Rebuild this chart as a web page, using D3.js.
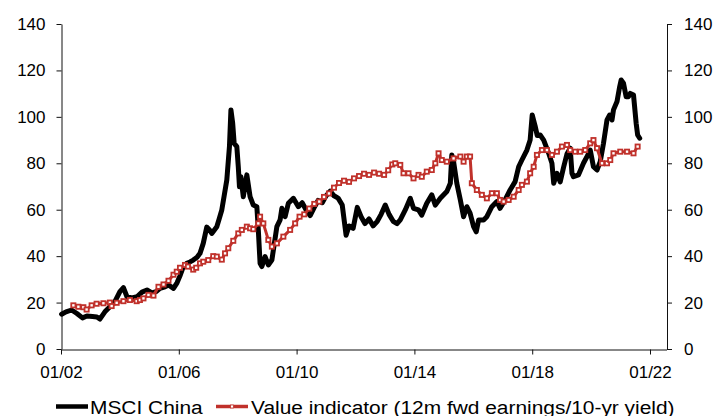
<!DOCTYPE html>
<html>
<head>
<meta charset="utf-8">
<script src="https://cdn.jsdelivr.net/npm/d3@7"></script>
<style>
  html, body { margin: 0; padding: 0; background: #fff; }
  svg { display: block; font-family: "Liberation Sans", Arial, sans-serif; }
</style>
</head>
<body>
<svg id="chart" width="715" height="416"></svg>
<script>
// Time in decimal years, values as index levels
const msciTime = [
  2002.02, 2002.17, 2002.36, 2002.54, 2002.73, 2002.88, 2003.07, 2003.22, 2003.32, 2003.49,
  2003.66, 2003.83, 2004.00, 2004.12, 2004.24, 2004.41, 2004.58, 2004.75, 2004.92, 2005.09,
  2005.23, 2005.36, 2005.53, 2005.65, 2005.82, 2005.94, 2006.04, 2006.14, 2006.27, 2006.38,
  2006.49, 2006.62, 2006.72, 2006.83, 2006.95, 2007.03, 2007.12, 2007.29, 2007.37, 2007.46,
  2007.54, 2007.63, 2007.72, 2007.77, 2007.83, 2007.88, 2007.97, 2008.02, 2008.06, 2008.11,
  2008.19, 2008.31, 2008.42, 2008.53, 2008.65, 2008.70, 2008.76, 2008.82, 2008.93, 2009.04,
  2009.16, 2009.33, 2009.44, 2009.50, 2009.61, 2009.72, 2009.89, 2010.06, 2010.19, 2010.32,
  2010.46, 2010.60, 2010.73, 2010.87, 2011.00, 2011.14, 2011.27, 2011.41, 2011.55, 2011.68,
  2011.78, 2011.92, 2012.06, 2012.19, 2012.32, 2012.46, 2012.60, 2012.74, 2012.87, 2013.01,
  2013.14, 2013.28, 2013.41, 2013.52, 2013.69, 2013.86, 2013.97, 2014.14, 2014.25, 2014.42,
  2014.59, 2014.71, 2014.88, 2015.10, 2015.22, 2015.27, 2015.33, 2015.44, 2015.56, 2015.67,
  2015.78, 2015.89, 2016.01, 2016.10, 2016.18, 2016.35, 2016.46, 2016.63, 2016.80, 2016.91,
  2017.08, 2017.25, 2017.42, 2017.54, 2017.65, 2017.82, 2017.93, 2018.00, 2018.10, 2018.17,
  2018.27, 2018.39, 2018.56, 2018.67, 2018.73, 2018.84, 2018.95, 2019.07, 2019.18, 2019.29,
  2019.35, 2019.40, 2019.57, 2019.74, 2019.86, 2019.97, 2020.08, 2020.20, 2020.31, 2020.42,
  2020.54, 2020.63, 2020.71, 2020.76, 2020.88, 2020.97, 2021.02, 2021.10, 2021.19, 2021.27,
  2021.33, 2021.44, 2021.53, 2021.58, 2021.65
];
const msciValue = [
  15.0, 16.0, 16.8, 15.3, 13.4, 14.2, 14.0, 13.8, 12.9, 16.0,
  18.2, 20.4, 24.7, 26.4, 22.5, 22.0, 22.5, 24.5, 25.4, 24.2,
  24.7, 26.1, 26.8, 27.6, 26.1, 28.5, 31.5, 35.0, 36.9, 37.5,
  38.3, 39.5, 41.2, 45.5, 52.5, 51.5, 49.8, 52.7, 56.0, 59.9,
  66.0, 72.8, 87.2, 103.0, 97.2, 88.6, 87.2, 78.5, 69.9, 74.2,
  65.6, 75.0, 65.6, 62.0, 61.3, 51.3, 36.9, 35.5, 39.8, 36.2,
  38.3, 52.7, 55.6, 60.6, 57.0, 62.8, 64.9, 61.3, 63.0, 60.0,
  57.5, 61.0, 64.0, 63.0, 66.0, 68.0, 66.0, 65.0, 62.0, 49.0,
  53.0, 52.0, 61.0, 57.0, 54.0, 56.0, 53.0, 55.0, 58.0, 62.0,
  58.0, 55.0, 54.0, 55.6, 59.9, 64.9, 60.6, 59.9, 57.7, 62.8,
  66.4, 62.0, 64.9, 67.8, 71.4, 83.6, 80.7, 71.4, 64.2, 57.0,
  61.3, 58.5, 52.7, 50.5, 55.6, 55.6, 57.0, 61.3, 63.5, 60.6,
  64.2, 68.5, 72.1, 78.5, 81.4, 85.7, 90.0, 100.8, 96.0, 92.0,
  92.2, 90.0, 84.3, 80.0, 71.4, 75.7, 72.0, 78.5, 84.0, 86.5,
  75.7, 74.2, 75.0, 80.0, 82.9, 85.7, 78.5, 77.1, 80.7, 88.6,
  98.7, 100.8, 98.7, 103.0, 106.6, 113.0, 115.9, 114.5, 108.7, 108.7,
  110.1, 109.4, 97.2, 92.2, 90.8
];

const valueTime = [
  2002.42, 2002.59, 2002.76, 2002.87, 2003.04, 2003.21, 2003.44, 2003.66, 2003.72, 2003.89,
  2004.12, 2004.34, 2004.57, 2004.68, 2004.80, 2004.97, 2005.14, 2005.31, 2005.48, 2005.65,
  2005.82, 2005.93, 2006.04, 2006.21, 2006.31, 2006.49, 2006.59, 2006.72, 2006.83, 2007.00,
  2007.17, 2007.29, 2007.46, 2007.57, 2007.68, 2007.85, 2008.02, 2008.14, 2008.31, 2008.42,
  2008.53, 2008.70, 2008.76, 2008.87, 2009.04, 2009.16, 2009.33, 2009.55, 2009.78, 2009.95,
  2010.10, 2010.26, 2010.43, 2010.60, 2010.77, 2010.93, 2011.10, 2011.27, 2011.44, 2011.61,
  2011.78, 2011.95, 2012.12, 2012.29, 2012.46, 2012.63, 2012.80, 2012.97, 2013.11, 2013.25,
  2013.35, 2013.52, 2013.63, 2013.80, 2013.97, 2014.14, 2014.25, 2014.42, 2014.59, 2014.71,
  2014.82, 2014.93, 2015.10, 2015.33, 2015.56, 2015.67, 2015.78, 2015.89, 2015.95, 2016.12,
  2016.29, 2016.46, 2016.63, 2016.80, 2016.91, 2017.03, 2017.20, 2017.37, 2017.54, 2017.65,
  2017.82, 2017.93, 2018.05, 2018.16, 2018.33, 2018.50, 2018.67, 2018.84, 2019.01, 2019.18,
  2019.29, 2019.46, 2019.63, 2019.80, 2019.97, 2020.08, 2020.20, 2020.37, 2020.54, 2020.65,
  2020.76, 2020.99, 2021.22, 2021.44, 2021.58
];
const valueValue = [
  18.8, 18.2, 18.0, 17.0, 18.8, 19.5, 19.7, 20.0, 18.5, 19.9,
  20.6, 21.1, 20.6, 21.1, 21.8, 23.3, 23.0, 26.8, 27.8, 29.4,
  32.0, 33.3, 35.0, 36.2, 35.5, 34.2, 35.0, 36.9, 37.6, 38.3,
  40.0, 39.8, 38.5, 41.2, 43.4, 46.6, 49.8, 51.3, 52.7, 52.0,
  51.6, 54.1, 57.0, 54.1, 47.0, 44.1, 45.5, 48.4, 51.3, 54.1,
  57.0, 58.0, 60.5, 62.5, 63.5, 65.5, 67.0, 69.5, 71.5, 72.5,
  72.0, 73.5, 74.5, 75.5, 75.0, 76.0, 75.5, 75.0, 77.0, 79.5,
  80.0, 79.3, 75.7, 75.7, 73.5, 75.0, 74.2, 76.4, 77.1, 80.0,
  84.3, 81.4, 80.7, 82.1, 82.9, 80.7, 82.9, 82.9, 71.4, 68.5,
  66.4, 64.9, 67.1, 67.1, 64.2, 63.5, 64.2, 65.6, 68.5, 70.7,
  72.1, 75.7, 78.5, 83.6, 85.7, 85.7, 83.6, 85.0, 87.2, 87.9,
  85.7, 85.0, 85.0, 85.7, 88.6, 90.0, 86.5, 80.0, 80.0, 81.4,
  84.3, 85.0, 85.0, 84.3, 87.2
];

const yTicks = [0, 20, 40, 60, 80, 100, 120, 140];
const xTicks = [2002, 2006, 2010, 2014, 2018, 2022];
const xTickLabels = ["01/02", "01/06", "01/10", "01/14", "01/18", "01/22"];
const seriesNames = ["MSCI China", "Value indicator (12m fwd earnings/10-yr yield)"];
const seriesColors = ["#000000", "#c0312b"];

const svg = d3.select("#chart");
const plot = { left: 61, right: 666.5, top: 24, bottom: 349 };

const x = d3.scaleLinear().domain([2002, 2022.56]).range([plot.left, plot.right]);
const y = d3.scaleLinear().domain([0, 140]).range([plot.bottom, plot.top]);

const axisFont = "17px";

function styleAxis(g) {
  g.selectAll("path.domain").attr("stroke", "#111").attr("stroke-width", 1);
  g.selectAll(".tick line").attr("stroke", "#111").attr("stroke-width", 1);
  g.selectAll(".tick text")
    .attr("fill", "#000")
    .style("font-size", axisFont)
    .style("font-family", "'Liberation Sans', Arial, sans-serif");
}

// Left value axis
svg.append("g")
  .attr("transform", `translate(${plot.left + 0.5},0)`)
  .call(d3.axisLeft(y).tickValues(yTicks).tickSize(5).tickSizeOuter(0).tickPadding(11))
  .call(styleAxis);

// Right value axis
svg.append("g")
  .attr("transform", `translate(${plot.right + 0.5},0)`)
  .call(d3.axisRight(y).tickValues(yTicks).tickSize(5).tickSizeOuter(0).tickPadding(12))
  .call(styleAxis);

// Time axis
svg.append("g")
  .attr("transform", `translate(0,${plot.bottom + 0.5})`)
  .call(d3.axisBottom(x).tickValues(xTicks).tickSize(5).tickSizeOuter(0).tickPadding(11)
    .tickFormat((d, i) => xTickLabels[i]))
  .call(styleAxis);

const msciData = msciTime.map((t, i) => ({ t, v: msciValue[i] }));
const valueData = valueTime.map((t, i) => ({ t, v: valueValue[i] }));

const line = d3.line().x(d => x(d.t)).y(d => y(d.v));

// MSCI China index
svg.append("path")
  .datum(msciData)
  .attr("d", line)
  .attr("fill", "none")
  .attr("stroke", seriesColors[0])
  .attr("stroke-width", 5)
  .attr("stroke-linejoin", "round")
  .attr("stroke-linecap", "round");

// Value indicator with square markers
svg.append("path")
  .datum(valueData)
  .attr("d", line)
  .attr("fill", "none")
  .attr("stroke", seriesColors[1])
  .attr("stroke-width", 3)
  .attr("stroke-linejoin", "round");

const mk = 4.2;
svg.append("g").selectAll("rect")
  .data(valueData)
  .join("rect")
  .attr("x", d => x(d.t) - mk / 2)
  .attr("y", d => y(d.v) - mk / 2)
  .attr("width", mk)
  .attr("height", mk)
  .attr("fill", "#fff")
  .attr("stroke", seriesColors[1])
  .attr("stroke-width", 1.8);

// Legend
const legendY = 406.5;
const legendItems = [
  { x0: 56, x1: 88, tx: 90 },
  { x0: 216, x1: 248, tx: 251 }
];
const legend = svg.append("g");
legendItems.forEach((it, i) => {
  legend.append("line")
    .attr("x1", it.x0).attr("x2", it.x1)
    .attr("y1", legendY).attr("y2", legendY)
    .attr("stroke", seriesColors[i])
    .attr("stroke-width", i === 0 ? 4.5 : 3.5);
  if (i === 1) {
    legend.append("rect")
      .attr("x", (it.x0 + it.x1) / 2 - 1.5)
      .attr("y", legendY - 1.5)
      .attr("width", 3).attr("height", 3)
      .attr("fill", "#fff")
      .attr("stroke", seriesColors[1])
      .attr("stroke-width", 0.8);
  }
  legend.append("text")
    .attr("transform", `translate(${it.tx},413.5) scale(1.1,1)`)
    .attr("fill", "#000")
    .style("font-size", "19px")
    .text(seriesNames[i]);
});
</script>
</body>
</html>
